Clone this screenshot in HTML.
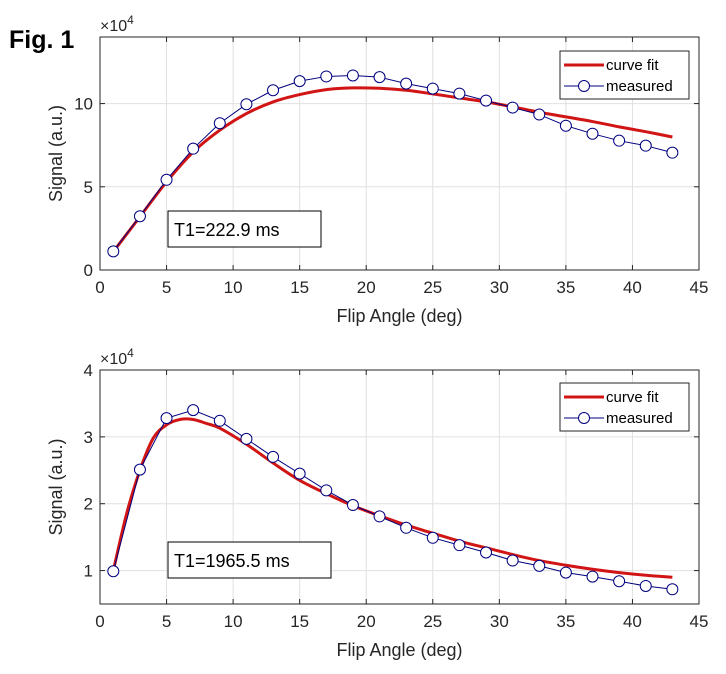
<!DOCTYPE html>
<html><head><meta charset="utf-8"><style>
body{margin:0;background:#fff;width:726px;height:669px;overflow:hidden;font-family:"Liberation Sans",sans-serif}
</style></head><body>
<svg id="fig" width="726" height="669" xmlns="http://www.w3.org/2000/svg" font-family="Liberation Sans, sans-serif">
<text x="9" y="48" font-size="25" font-weight="900" fill="#000">Fig. 1</text>
</svg>
<script>
const xs = [1,3,5,7,9,11,13,15,17,19,21,23,25,27,29,31,33,35,37,39,41,43];
const measuredTop = [1.12,3.23,5.42,7.29,8.82,9.96,10.8,11.35,11.63,11.69,11.59,11.2,10.9,10.6,10.18,9.76,9.34,8.67,8.19,7.77,7.47,7.05];
const fitTopX = [1,3,5,7,9,11,13,15,17,19,21,23,25,27,29,31,33,35,37,39,41,43];
const fitTop = [1.1,3.2,5.3,7.09,8.4,9.4,10.1,10.54,10.84,10.94,10.92,10.8,10.58,10.34,10.1,9.8,9.48,9.2,8.92,8.6,8.31,7.99];
const measuredBot = [0.99,2.51,3.28,3.40,3.24,2.97,2.70,2.45,2.20,1.98,1.81,1.64,1.49,1.38,1.27,1.15,1.07,0.97,0.91,0.84,0.77,0.72];
const fitBotX = [1,2,3,4,5,6,7,8,9,11,13,15,17,19,21,23,25,27,29,31,33,35,37,39,41,43];
const fitBot = [1.0,1.85,2.5,2.98,3.18,3.26,3.26,3.2,3.13,2.89,2.61,2.35,2.15,1.97,1.82,1.68,1.56,1.44,1.34,1.24,1.15,1.08,1.02,0.97,0.93,0.90];
const xTicks = [0,5,10,15,20,25,30,35,40,45];
const yTicksTop = [0,5,10];
const yTicksBot = [1,2,3,4];

const NS='http://www.w3.org/2000/svg';
const svg=document.getElementById('fig');
function mk(tag,attrs,parent){const e=document.createElementNS(NS,tag);for(const k in attrs)e.setAttribute(k,attrs[k]);(parent||svg).appendChild(e);return e;}
function smoothPath(pts){
  let d='M'+pts[0][0]+','+pts[0][1];
  for(let i=0;i<pts.length-1;i++){
    const p0=pts[Math.max(0,i-1)],p1=pts[i],p2=pts[i+1],p3=pts[Math.min(pts.length-1,i+2)];
    const c1x=p1[0]+(p2[0]-p0[0])/6,c1y=p1[1]+(p2[1]-p0[1])/6;
    const c2x=p2[0]-(p3[0]-p1[0])/6,c2y=p2[1]-(p3[1]-p1[1])/6;
    d+=` C${c1x},${c1y} ${c2x},${c2y} ${p2[0]},${p2[1]}`;
  }
  return d;
}

function panel(p){
  const g=mk('g',{});
  
  
  const L=100,R=699,T=p.top,B=p.bottom;
  const sx=v=>L+(v-0)/(45-0)*(R-L);
  const sy=v=>B-(v-p.ymin)/(p.ymax-p.ymin)*(B-T);
  mk('rect',{x:L,y:T,width:R-L,height:B-T,fill:'#fff'},g);
  xTicks.forEach(t=>{
    const gl=mk('line',{x1:sx(t),x2:sx(t),y1:T,y2:B,stroke:'#e0e0e0','stroke-width':1},g);
    
    
    mk('line',{x1:sx(t),x2:sx(t),y1:B,y2:B-5,stroke:'#262626'},g);
    mk('line',{x1:sx(t),x2:sx(t),y1:T,y2:T+5,stroke:'#262626'},g);
    const tl=mk('text',{x:sx(t),y:B+23,'font-size':17,'text-anchor':'middle',fill:'#262626'},g);
    tl.textContent=t;
    
    
  });
  p.yt.forEach(t=>{
    const gl=mk('line',{x1:L,x2:R,y1:sy(t),y2:sy(t),stroke:'#e0e0e0','stroke-width':1},g);
    
    
    mk('line',{x1:L,x2:L+5,y1:sy(t),y2:sy(t),stroke:'#262626'},g);
    mk('line',{x1:R,x2:R-5,y1:sy(t),y2:sy(t),stroke:'#262626'},g);
    const tl=mk('text',{x:L-7,y:sy(t)+6,'font-size':17,'text-anchor':'end',fill:'#262626'},g);
    tl.textContent=t;
    
    
  });
  mk('rect',{x:L,y:T,width:R-L,height:B-T,fill:'none',stroke:'#262626','stroke-width':1},g);
  const fp=mk('path',{d:smoothPath(p.fx.map((x,i)=>[sx(x),sy(p.fy[i])])),fill:'none',stroke:'#d11414','stroke-width':3,'stroke-linejoin':'round'},g);
  
  
  const mp=mk('polyline',{points:xs.map((x,i)=>sx(x)+','+sy(p.my[i])).join(' '),fill:'none',stroke:'#00007f','stroke-width':1},g);
  
  
  xs.forEach((x,i)=>{
    const c=mk('circle',{cx:sx(x),cy:sy(p.my[i]),r:5.5,fill:'#fff',stroke:'#00007f','stroke-width':1},g);
    
    
  });
  const m=mk('text',{x:L,y:T-6,'font-size':16,fill:'#262626'},g);
  
  
  m.innerHTML='×10<tspan dy="-7" font-size="12">4</tspan>';
  const yt=mk('text',{transform:`translate(${L-38},${(T+B)/2}) rotate(-90)`,'font-size':18,'text-anchor':'middle',fill:'#262626'},g);
  yt.textContent='Signal (a.u.)';
  
  
  const xt=mk('text',{x:(L+R)/2,y:B+52,'font-size':18,'text-anchor':'middle',fill:'#262626'},g);
  xt.textContent='Flip Angle (deg)';
  
  
  const tb=mk('g',{},g);
  
  
  mk('rect',{x:168,y:p.tby,width:p.tbw,height:36,fill:'#fff',stroke:'#000'},tb);
  const tt=mk('text',{x:174,y:p.tby+25,'font-size':18,fill:'#000'},tb);
  tt.textContent=p.t1;
  const lg=mk('g',{},g);
  
  
  const ly=p.ly;
  mk('rect',{x:560,y:ly,width:129,height:48,fill:'#fff',stroke:'#262626'},lg);
  mk('line',{x1:564,x2:604,y1:ly+14,y2:ly+14,stroke:'#d11414','stroke-width':3},lg);
  const l1=mk('text',{x:606,y:ly+19,'font-size':15,fill:'#000'},lg);l1.textContent='curve fit';
  
  
  mk('line',{x1:564,x2:604,y1:ly+35,y2:ly+35,stroke:'#00007f','stroke-width':1},lg);
  mk('circle',{cx:584,cy:ly+35,r:5.5,fill:'#fff',stroke:'#00007f'},lg);
  const l2=mk('text',{x:606,y:ly+40,'font-size':15,fill:'#000'},lg);l2.textContent='measured';
  
  
}
panel({name:'top-chart',top:37,bottom:270,ymin:0,ymax:14,yt:yTicksTop,fx:fitTopX,fy:fitTop,my:measuredTop,t1:'T1=222.9 ms',tby:211,tbw:153,ly:51});
panel({name:'bottom-chart',top:370,bottom:604,ymin:0.5,ymax:4,yt:yTicksBot,fx:fitBotX,fy:fitBot,my:measuredBot,t1:'T1=1965.5 ms',tby:542,tbw:163,ly:383});
</script>
</body></html>
